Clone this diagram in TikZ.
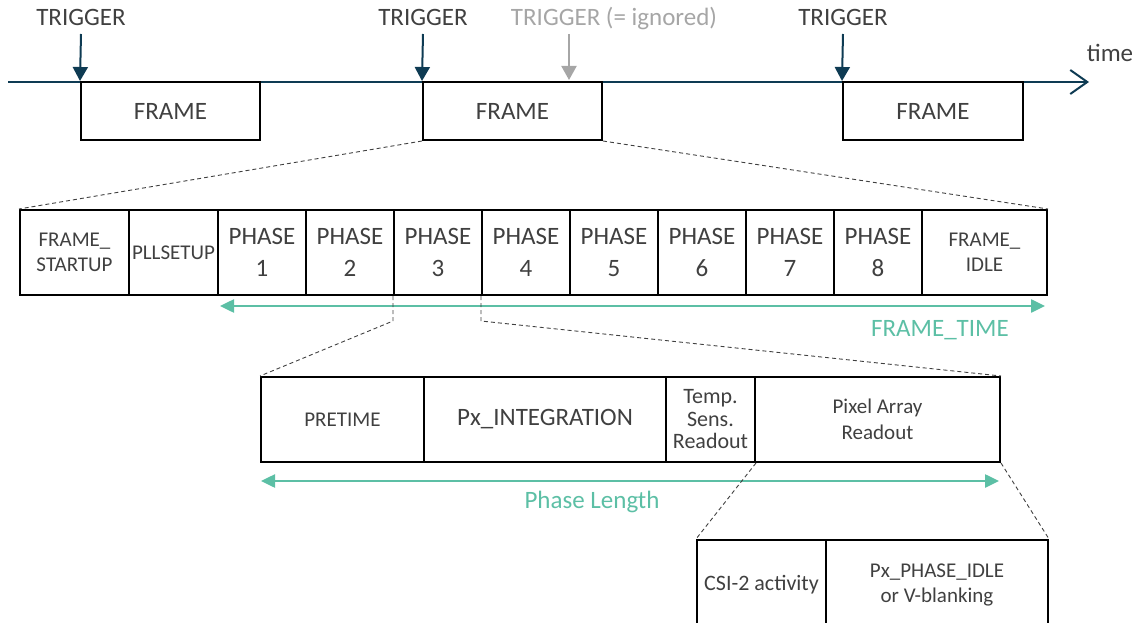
\documentclass[tikz,border=0pt]{standalone}
\usepackage{fontspec}
\setmainfont{Carlito}
\usetikzlibrary{arrows.meta}
\definecolor{txt}{HTML}{404040}
\definecolor{navy}{HTML}{0E3B53}
\definecolor{ign}{HTML}{A6A6A6}
\definecolor{teal}{HTML}{5CBFA5}
\definecolor{dashc}{HTML}{404040}
\tikzset{
  box/.style={draw=black, line width=2pt, inner sep=0pt, text=txt, align=center},
  big/.style={font=\fontsize{25}{32}\selectfont},
  mid/.style={font=\fontsize{21}{25}\selectfont},
  lbl/.style={inner sep=0pt, anchor=base, text=txt, font=\fontsize{25}{30}\selectfont},
  trig/.style={navy, line width=2pt, -{Triangle[width=15pt,length=14pt]}},
  zoomline/.style={dashc, line width=0.9pt, dash pattern=on 4pt off 3pt},
  span/.style={teal, line width=2.5pt, {Triangle[width=13pt,length=14pt]}-{Triangle[width=13pt,length=14pt]}},
}
\begin{document}
\begin{tikzpicture}[x=1pt,y=-1pt]
\useasboundingbox (0,0) rectangle (1138,623);
\clip (0,0) rectangle (1138,623);

% time axis
\coordinate (ax0) at (8,82);
\coordinate (ax1) at (1089,82);
\draw[navy, line width=2pt, -{Straight Barb[length=17pt,width=24pt,line width=2pt]}] (ax0) -- (ax1);
\node[lbl] (time) at (1110,62) {time};

% frames
\node[box, big, minimum width=179pt, minimum height=58pt] (F1) at (170.5,111) {FRAME};
\node[box, big, minimum width=179pt, minimum height=58pt] (F2) at (512.5,111) {FRAME};
\node[box, big, minimum width=180pt, minimum height=58pt] (F3) at (933,111) {FRAME};

% triggers
\node[lbl] (T1) at (81,26) {TRIGGER};
\node[lbl] (T2) at (423,26) {TRIGGER};
\node[lbl] (T3) at (843,26) {TRIGGER};
\node[lbl, text=ign] (TI) at (614,26) {TRIGGER (= ignored)};
\coordinate (t1s) at (81,34);
\coordinate (t2s) at (423,34);
\coordinate (t3s) at (843,34);
\coordinate (tis) at (569,34);
\coordinate (tie) at (569,80);
\draw[trig] (t1s) -- (F1.north west);
\draw[trig] (t2s) -- (F2.north west);
\draw[trig] (t3s) -- (F3.north west);
\draw[trig, ign] (tis) -- (tie);

% frame row
\node[box, mid, minimum width=109pt, minimum height=85pt] (FS) at (74.5,252.5) {FRAME\_\\STARTUP};
\node[box, mid, minimum width=89pt, minimum height=85pt] (PLL) at (173.5,252.5) {PLLSETUP};
\node[box, big, minimum width=88pt, minimum height=85pt] (P1) at (262,252.5) {PHASE\\1};
\node[box, big, minimum width=88pt, minimum height=85pt] (P2) at (350,252.5) {PHASE\\2};
\node[box, big, minimum width=88pt, minimum height=85pt] (P3) at (438,252.5) {PHASE\\3};
\node[box, big, minimum width=88pt, minimum height=85pt] (P4) at (526,252.5) {PHASE\\4};
\node[box, big, minimum width=88pt, minimum height=85pt] (P5) at (614,252.5) {PHASE\\5};
\node[box, big, minimum width=88pt, minimum height=85pt] (P6) at (702,252.5) {PHASE\\6};
\node[box, big, minimum width=88pt, minimum height=85pt] (P7) at (790,252.5) {PHASE\\7};
\node[box, big, minimum width=88pt, minimum height=85pt] (P8) at (878,252.5) {PHASE\\8};
\node[box, mid, minimum width=125pt, minimum height=85pt] (FI) at (984.5,252.5) {FRAME\_\\IDLE};

\draw[zoomline] (F2.south west) -- (FS.north west);
\draw[zoomline] (F2.south east) -- (FI.north east);

% frame time
\coordinate (ft0) at (220,306);
\coordinate (ft1) at (1045,306);
\draw[span] (ft0) -- (ft1);
\node[lbl, text=teal] (FT) at (940,336) {FRAME\_TIME};

% phase row
\node[box, font=\fontsize{21}{25}\selectfont, minimum width=163pt, minimum height=85pt] (PRE) at (342.5,419.5) {PRETIME};
\node[box, big, minimum width=242pt, minimum height=85pt] (INT) at (545,419.5) {Px\_INTEGRATION};
\node[box, font=\fontsize{22}{22.5}\selectfont, minimum width=89pt, minimum height=85pt] (TS) at (710.5,419.5) {Temp.\\Sens.\\Readout};
\node[box, font=\fontsize{21}{26}\selectfont, minimum width=245pt, minimum height=85pt] (PAR) at (877.5,419.5) {Pixel Array\\Readout};

\draw[zoomline] (P3.south west) -- ++(0,25) -- (PRE.north west);
\draw[zoomline] (P4.south west) -- ++(0,25) -- (PAR.north east);

% phase length
\coordinate (pl0) at (261,481);
\coordinate (pl1) at (999,481);
\draw[span] (pl0) -- (pl1);
\node[lbl, text=teal] (PL) at (592,508) {Phase Length};

% bottom row
\node[box, font=\fontsize{22}{25}\selectfont, minimum width=129pt, minimum height=90pt] (CSI) at (761.5,585) {CSI-2 activity};
\node[box, font=\fontsize{21}{25}\selectfont, minimum width=222pt, minimum height=90pt] (PI) at (937,585) {Px\_PHASE\_IDLE\\or V-blanking};

\draw[zoomline] (TS.south east) -- (CSI.north west);
\draw[zoomline] (PAR.south east) -- (PI.north east);
\end{tikzpicture}
\end{document}
